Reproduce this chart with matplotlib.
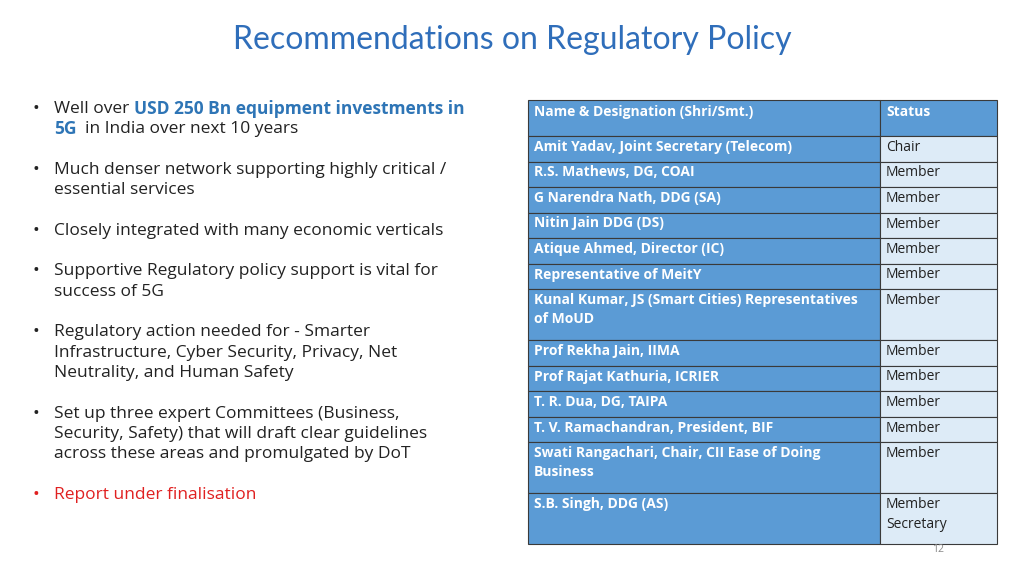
import matplotlib.pyplot as plt
from matplotlib.patches import Rectangle

title = "Recommendations on Regulatory Policy"

bullets = [
    [("Well over ", "#222222", "normal"), ("USD 250 Bn equipment investments in", "#2E75B6", "bold")],
    [("5G", "#2E75B6", "bold"), ("  in India over next 10 years", "#222222", "normal")],
    None,
    [("Much denser network supporting highly critical /", "#222222", "normal")],
    [("essential services", "#222222", "normal")],
    None,
    [("Closely integrated with many economic verticals", "#222222", "normal")],
    None,
    [("Supportive Regulatory policy support is vital for", "#222222", "normal")],
    [("success of 5G", "#222222", "normal")],
    None,
    [("Regulatory action needed for - Smarter", "#222222", "normal")],
    [("Infrastructure, Cyber Security, Privacy, Net", "#222222", "normal")],
    [("Neutrality, and Human Safety", "#222222", "normal")],
    None,
    [("Set up three expert Committees (Business,", "#222222", "normal")],
    [("Security, Safety) that will draft clear guidelines", "#222222", "normal")],
    [("across these areas and promulgated by DoT", "#222222", "normal")],
    None,
    [("Report under finalisation", "#E02020", "normal")],
]
bullet_starts = [0, 3, 6, 8, 11, 15, 19]

header = ["Name & Designation (Shri/Smt.)", "Status"]
names = [
    "Amit Yadav, Joint Secretary (Telecom)",
    "R.S. Mathews, DG, COAI",
    "G Narendra Nath, DDG (SA)",
    "Nitin Jain DDG (DS)",
    "Atique Ahmed, Director (IC)",
    "Representative of MeitY",
    "Kunal Kumar, JS (Smart Cities) Representatives\nof MoUD",
    "Prof Rekha Jain, IIMA",
    "Prof Rajat Kathuria, ICRIER",
    "T. R. Dua, DG, TAIPA",
    "T. V. Ramachandran, President, BIF",
    "Swati Rangachari, Chair, CII Ease of Doing\nBusiness",
    "S.B. Singh, DDG (AS)",
]
status = ["Chair"] + ["Member"] * 11 + ["Member\nSecretary"]

plt.rcParams["font.family"] = "Open Sans"
fig = plt.figure(figsize=(10.24, 5.76), dpi=100)
ax = fig.add_axes([0, 0, 1, 1])
ax.set_xlim(0, 1024)
ax.set_ylim(576, 0)
ax.axis("off")

ax.text(512, 40, title, ha="center", va="center", fontsize=23, color="#2F6EBA",
        family="Lato")

# bullets
y0, lh = 109, 20.3
for i, line in enumerate(bullets):
    if line is None:
        continue
    y = y0 + i * lh
    if i in bullet_starts:
        ax.text(36, y, "\u2022", ha="center", va="center", fontsize=13, color=line[0][1])
    x = 54
    for txt, col, wt in line:
        t = ax.text(x, y, txt, ha="left", va="center", fontsize=12.5, color=col, weight=wt)
        fig.canvas.draw()
        bb = t.get_window_extent()
        x += bb.width

# table
xl, xm, xr = 528, 880, 997
blue, light, edge = "#5B9BD5", "#DDEBF7", "#3A3A3A"
row_h = 25.5
y = 100
hh = 36
for x1, x2, txt in [(xl, xm, header[0]), (xm, xr, header[1])]:
    ax.add_patch(Rectangle((x1, y), x2 - x1, hh, fc=blue, ec=edge, lw=0.8))
    ax.text(x1 + 6, y + 5, txt, ha="left", va="top", fontsize=10, color="white", weight="bold")
y += hh
for n, s in zip(names, status):
    h = row_h * (n.count("\n") + 1 if "\n" in n else 1) * (2 if "\n" in (n + s) and "\n" not in n else 1)
    ax.add_patch(Rectangle((xl, y), xm - xl, h, fc=blue, ec=edge, lw=0.8))
    ax.add_patch(Rectangle((xm, y), xr - xm, h, fc=light, ec=edge, lw=0.8))
    ax.text(xl + 6, y + 4, n, ha="left", va="top", fontsize=10, color="white",
            weight="bold", linespacing=1.45)
    ax.text(xm + 6, y + 4, s, ha="left", va="top", fontsize=10, color="#222222",
            linespacing=1.45)
    y += h

ax.text(938, 549, "12", ha="center", va="center", fontsize=7.5, color="#888888")

fig.savefig("out.png", dpi=100)
